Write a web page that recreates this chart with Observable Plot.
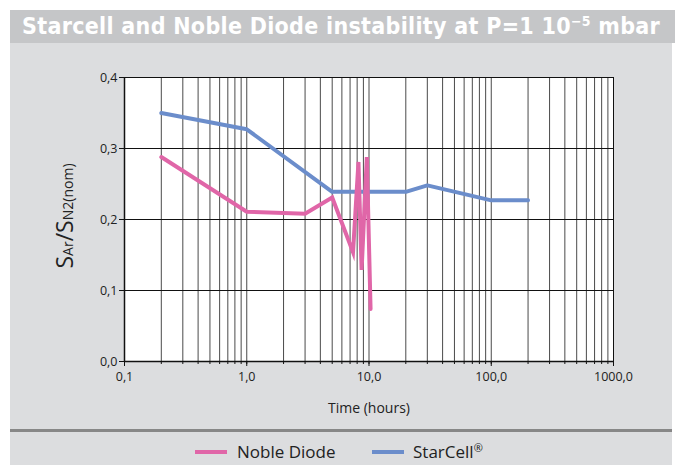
<!DOCTYPE html>
<html><head><meta charset="utf-8">
<script src="https://cdn.jsdelivr.net/npm/d3@7"></script>
<script src="https://cdn.jsdelivr.net/npm/@observablehq/plot@0.6"></script>
<style>
body{margin:0;background:#fff;}
#wrap{position:relative;width:675px;height:465px;overflow:hidden;font-family:"Open Sans",sans-serif;}
#panel{position:absolute;left:10px;top:43px;width:662px;height:422px;background:#dcdddf;}
#titlebar{position:absolute;left:10px;top:10px;width:665px;height:33px;background:#c5c6c8;}
#title{position:absolute;left:22px;top:10px;height:33px;line-height:33px;color:#fff;font-family:"DejaVu Sans Condensed","DejaVu Sans",sans-serif;font-stretch:condensed;font-weight:bold;font-size:23px;white-space:nowrap;letter-spacing:0.3px;}
#title sup{font-size:14px;vertical-align:0;position:relative;top:-8px;}
#sep{position:absolute;left:10px;top:429px;width:662px;height:3px;background:#878787;}
#chart{position:absolute;left:0;top:43px;}
.sw{position:absolute;top:450px;width:32px;height:4px;}
.lt{position:absolute;top:440px;line-height:24px;font-size:17px;color:#222;white-space:nowrap;}
.lt sup{font-size:11px;vertical-align:0;position:relative;top:-6px;}
</style>
</head><body>
<div id="wrap">
  <div id="panel"></div>
  <div id="titlebar"></div>
  <div id="title">Starcell and Noble Diode instability at P=1 10<sup>−5</sup> mbar</div>
  <div id="sep"></div>
  <div id="chart"></div>
  <div class="sw" id="sw1" style="left:195px;"></div>
  <div class="lt" id="lt1" style="left:237px;"></div>
  <div class="sw" id="sw2" style="left:372px;"></div>
  <div class="lt" id="lt2" style="left:413px;"></div>
</div>
<script>
// ---- data ----
const seriesNames = ["Noble Diode", "StarCell"];
const seriesColors = ["#e066a8", "#6b8dcb"];
const nobleHours  = [0.2, 1, 3, 5, 7.4, 8.2, 8.7, 9.6, 10.3];
const nobleValues = [0.288, 0.211, 0.208, 0.231, 0.154, 0.281, 0.129, 0.288, 0.074];
const starHours   = [0.2, 1, 5, 20, 30, 100, 200];
const starValues  = [0.350, 0.327, 0.239, 0.239, 0.248, 0.227, 0.227];
const xTicks = [0.1, 1, 10, 100, 1000];
const xTickLabels = ["0,1", "1,0", "10,0", "100,0", "1000,0"];
const yTicks = [0, 0.1, 0.2, 0.3, 0.4];
const yTickLabels = ["0,0", "0,1", "0,2", "0,3", "0,4"];

const noble = nobleHours.map((h, i) => ({hours: h, value: nobleValues[i]}));
const star = starHours.map((h, i) => ({hours: h, value: starValues[i]}));
// log grid lines (1..9 x each decade)
const minorGrid = [];
for (const d of xTicks.slice(0, -1)) for (let k = 1; k <= 9; k++) minorGrid.push(d * k);
minorGrid.push(xTicks[xTicks.length - 1]);

const chart = Plot.plot({
  width: 675, height: 386,
  marginLeft: 124, marginRight: 62, marginTop: 34, marginBottom: 68,
  style: {background: "transparent", fontFamily: "Open Sans", fontSize: "12.5px", color: "#222"},
  x: {type: "log", domain: [0.1, 1000]},
  y: {domain: [0, 0.4]},
  marks: [
    Plot.frame({fill: "white", stroke: null}),
    Plot.ruleX(minorGrid, {stroke: "#4a4a4a", strokeWidth: 1}),
    Plot.ruleY(yTicks.slice(1), {stroke: "#111", strokeWidth: 1}),
    Plot.line(star, {x: "hours", y: "value", stroke: seriesColors[1], strokeWidth: 4}),
    Plot.line(noble, {x: "hours", y: "value", stroke: seriesColors[0], strokeWidth: 4, strokeLinejoin: "miter", strokeMiterlimit: 10}),
    Plot.frame({stroke: "#111", strokeWidth: 1}),
    Plot.ruleY([0], {stroke: "#111", strokeWidth: 1.5}),
    Plot.ruleX([0.1], {stroke: "#111", strokeWidth: 1.5}),
    Plot.axisX(minorGrid, {tickSize: 3, tickFormat: () => "", label: null, stroke: "#111"}),
    Plot.axisX(xTicks, {tickSize: 5, tickPadding: 6, tickFormat: d => xTickLabels[xTicks.indexOf(d)], label: null, stroke: "#111"}),
    Plot.axisY(yTicks, {tickSize: 5, tickPadding: 2, tickFormat: d => yTickLabels[yTicks.indexOf(d)], label: null, stroke: "#111"})
  ]
});
document.getElementById("chart").appendChild(chart);

const svg = d3.select(chart);
// y-axis label with subscripts
const yl = svg.append("text")
  .attr("transform", "translate(73,173) rotate(-90)")
  .attr("text-anchor", "middle")
  .attr("font-family", "Open Sans")
  .attr("fill", "#222");
yl.append("tspan").attr("font-size", 23).text("S");
yl.append("tspan").attr("font-size", 14).text("Ar");
yl.append("tspan").attr("font-size", 23).text("/S");
yl.append("tspan").attr("font-size", 14).text("N2(nom)");
// x-axis label
svg.append("text")
  .attr("x", 369).attr("y", 370)
  .attr("text-anchor", "middle")
  .attr("font-family", "Open Sans").attr("font-size", 14).attr("fill", "#222")
  .text("Time (hours)");

// legend
document.getElementById("sw1").style.background = seriesColors[0];
document.getElementById("sw2").style.background = seriesColors[1];
document.getElementById("lt1").textContent = seriesNames[0];
document.getElementById("lt2").innerHTML = seriesNames[1] + "<sup>®</sup>";
</script>
</body></html>
